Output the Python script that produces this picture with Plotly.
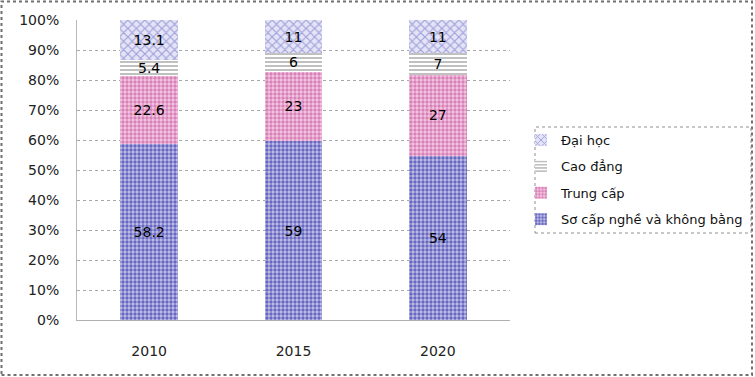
import plotly.graph_objects as go

years = ["2010", "2015", "2020"]
so_cap = [58.2, 59, 54]
trung_cap = [22.6, 23, 27]
cao_dang = [5.4, 6, 7]
dai_hoc = [13.1, 11, 11]
labels_so_cap = ["58.2", "59", "54"]
labels_trung_cap = ["22.6", "23", "27"]
labels_cao_dang = ["5.4", "6", "7"]
labels_dai_hoc = ["13.1", "11", "11"]

W, H = 755, 377
L, R, T, B = 77, 510, 20, 320
pw, ph = R - L, B - T

def px(x):
    return (x - L) / pw

def py(y):
    return (B - y) / ph

series = [
    ("Sơ cấp nghề và không bằng", so_cap, labels_so_cap,
     dict(shape=".", fgcolor="#6868c4", bgcolor="#c0c0e4", size=4, solidity=0.55)),
    ("Trung cấp", trung_cap, labels_trung_cap,
     dict(shape=".", fgcolor="#d880b8", bgcolor="#f4c8e2", size=4, solidity=0.55)),
    ("Cao đẳng", cao_dang, labels_cao_dang,
     dict(shape="-", fgcolor="#b0b0b0", bgcolor="#ffffff", size=4, solidity=0.4)),
    ("Đại học", dai_hoc, labels_dai_hoc,
     dict(shape="x", fgcolor="#a0a0dc", bgcolor="#e4e4f6", size=6, solidity=0.35)),
]

fig = go.Figure()
for i, (name, vals, labs, pat) in enumerate(series):
    fig.add_trace(go.Bar(
        x=years, y=vals, name=name, text=labs, legendgroup="g%d" % i,
        legendrank=1000 - i,
        textposition="inside", insidetextanchor="middle",
        textfont=dict(color="#000000", size=14, family="DejaVu Sans"),
        constraintext="none", textangle=0,
        marker=dict(color=pat["bgcolor"], line=dict(width=0), pattern=dict(fillmode="replace", **pat)),
    ))

fig.update_layout(
    width=W, height=H,
    margin=dict(l=L, r=W - R, t=T, b=H - B, autoexpand=False),
    barmode="stack", barnorm="percent", bargap=0.6,
    plot_bgcolor="white", paper_bgcolor="white",
    font=dict(family="DejaVu Sans", size=14, color="#222222"),
    legend=dict(
        x=px(521), y=py(125), xanchor="left", yanchor="top",
        traceorder="grouped", font=dict(size=13, color="#111111"),
        bgcolor="rgba(0,0,0,0)", itemwidth=30, tracegroupgap=6.5,
    ),
    xaxis=dict(showgrid=False, showline=True, linecolor="#b0b0b0", ticks="",
               tickfont=dict(size=14, color="#222222"), ticklabelstandoff=18),
    yaxis=dict(range=[0, 100], dtick=10, ticksuffix="%", showgrid=True,
               gridcolor="#a8a8a8", griddash="dot", gridwidth=1,
               showline=True, linecolor="#b8b8b8", ticks="",
               tickfont=dict(size=14, color="#222222"), ticklabelstandoff=14,
               zeroline=False),
    shapes=[
        dict(type="rect", xref="paper", yref="paper",
             x0=px(1.5), x1=px(752), y0=py(375), y1=py(1.5),
             line=dict(color="#707070", width=2, dash="dot"), layer="below"),
        dict(type="rect", xref="paper", yref="paper",
             x0=px(535), x1=px(751), y0=py(233), y1=py(127),
             line=dict(color="#909090", width=1, dash="dot")),
    ],
)

fig.write_html("out.html")
